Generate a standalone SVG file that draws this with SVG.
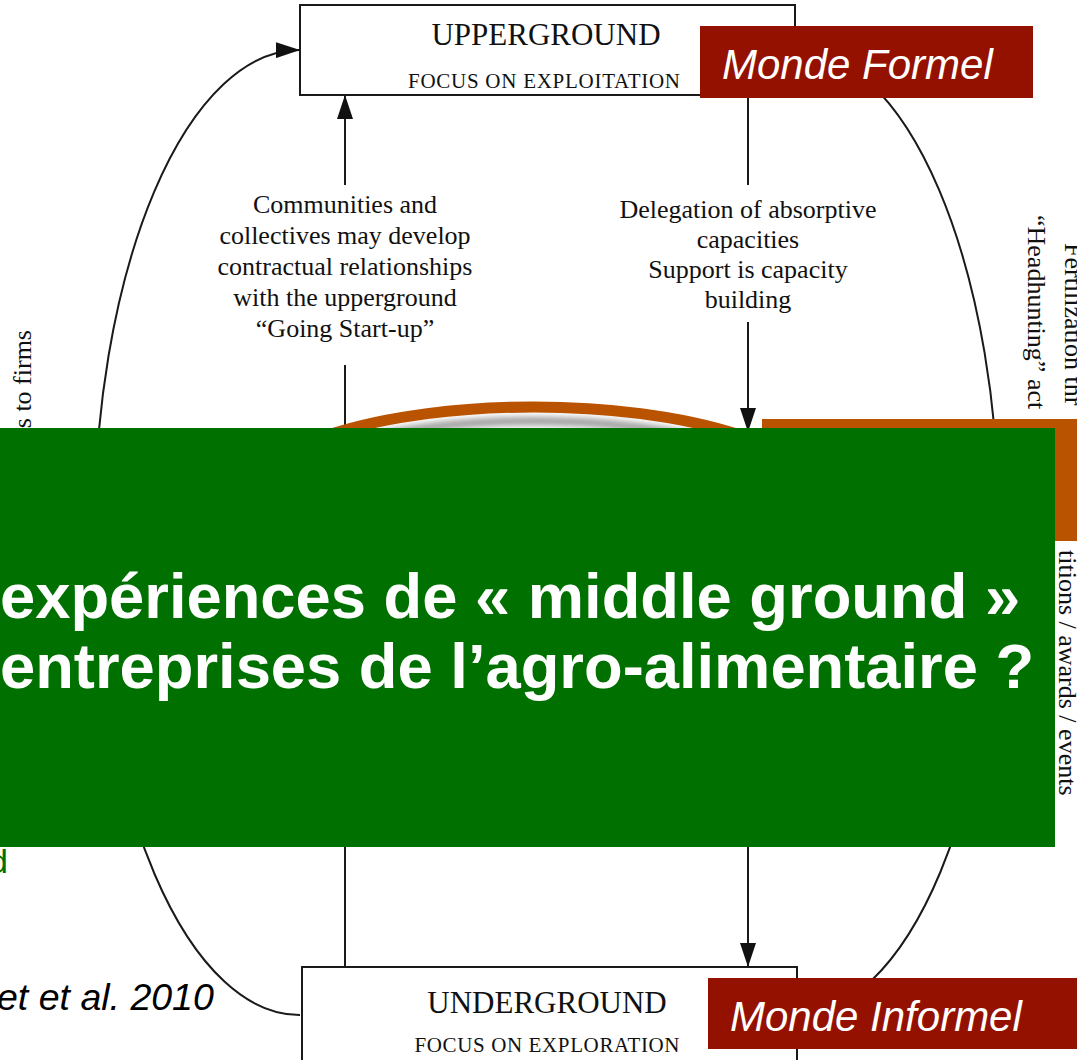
<svg xmlns="http://www.w3.org/2000/svg" width="1077" height="1060" viewBox="0 0 1077 1060">
<defs>
<marker id="ah" viewBox="0 0 24 16" refX="23" refY="8" markerWidth="24" markerHeight="16" markerUnits="userSpaceOnUse" orient="auto"><path d="M0,0 L24,8 L0,16 Z" fill="#111"/></marker>
<filter id="blur" x="-10%" y="-10%" width="120%" height="120%"><feGaussianBlur stdDeviation="3"/></filter>
</defs>
<style>
.ln{fill:none;stroke:#1a1a1a;stroke-width:2}
.box{fill:#fff;stroke:#1a1a1a;stroke-width:2}
.ser{font-family:"Liberation Serif","Times New Roman",serif;fill:#111}
.lab{font-size:26px;text-anchor:middle}
.ttl{font-size:31px;text-anchor:middle}
.sub{font-size:21px;text-anchor:middle}
.side{font-size:26px}
.tag{font-family:"Liberation Sans",Arial,sans-serif;font-style:italic;font-size:42px;fill:#fff}
.big{font-family:"Liberation Sans",Arial,sans-serif;font-weight:bold;font-size:63.3px;fill:#fff}
</style>
<rect width="1077" height="1060" fill="#fff"/>

<g id="upperground">
<rect class="box" x="300" y="5" width="495" height="90"/>
<text class="ser ttl" x="546" y="45">UPPERGROUND</text>
<text class="ser sub" x="544" y="88" textLength="272">FOCUS ON EXPLOITATION</text>
</g>

<g id="underground">
<rect class="box" x="302" y="967" width="495" height="110"/>
<text class="ser ttl" x="547" y="1013">UNDERGROUND</text>
<text class="ser sub" x="547" y="1052" textLength="265">FOCUS ON EXPLORATION</text>
</g>

<g id="connectors">
<path class="ln" d="M300,1015 A205,482 0 0 1 299,50" marker-end="url(#ah)"/>
<path class="ln" d="M795,50 A203,482 0 0 1 797,1015"/>
<path class="ln" d="M345,185 L345,96" marker-end="url(#ah)"/>
<path class="ln" d="M345,365 L345,967"/>
<path class="ln" d="M748,95 L748,185"/>
<path class="ln" d="M748,322 L748,431" marker-end="url(#ah)"/>
<path class="ln" d="M748,847 L748,966" marker-end="url(#ah)"/>
</g>

<g id="label-left">
<text class="ser lab" x="345"><tspan x="345" y="213">Communities and</tspan><tspan x="345" y="244">collectives may develop</tspan><tspan x="345" y="275">contractual relationships</tspan><tspan x="345" y="306">with the upperground</tspan><tspan x="345" y="337">“Going Start-up”</tspan></text>
</g>
<g id="label-right">
<text class="ser lab" x="748"><tspan x="748" y="218">Delegation of absorptive</tspan><tspan x="748" y="248">capacities</tspan><tspan x="748" y="278">Support is capacity</tspan><tspan x="748" y="308">building</tspan></text>
</g>

<g id="side-left">
<text class="ser side" transform="translate(31,330) rotate(-90)" text-anchor="end">s to firms</text>
</g>
<g id="side-right">
<text class="ser side" transform="translate(1065,243) rotate(90)">Fertilization thr</text>
<text class="ser side" transform="translate(1028,215) rotate(90)">“Headhunting” act</text>
<text class="ser side" transform="translate(1059,550) rotate(90)">titions / awards / events</text>
</g>

<g id="middleground">
<ellipse cx="534" cy="502" rx="290" ry="95" fill="#fff"/>
<ellipse cx="534" cy="510" rx="282" ry="89" fill="none" stroke="#999" stroke-width="8" filter="url(#blur)"/>
<ellipse cx="534" cy="502" rx="290" ry="95" fill="none" stroke="#BA5300" stroke-width="11"/>
</g>

<g id="orange-box">
<rect x="762" y="419" width="315" height="122" fill="#BA5300"/>
</g>

<g id="question">
<rect x="0" y="428" width="1055" height="419" fill="#007000"/>
<text class="big" x="0" y="618">expériences de « middle ground »</text>
<text class="big" x="0" y="688">entreprises de l’agro-alimentaire ?</text>
</g>

<g id="fragments">
<text x="8" y="873" text-anchor="end" font-family="Liberation Sans, Arial, sans-serif" font-size="34" fill="#007000">d</text>
<text x="-3" y="1010" font-family="Liberation Sans, Arial, sans-serif" font-style="italic" font-size="37.5" fill="#000">et et al. 2010</text>
</g>

<g id="monde-formel">
<rect x="700" y="26" width="333" height="72" fill="#941100"/>
<text class="tag" x="722" y="79">Monde Formel</text>
</g>
<g id="monde-informel">
<rect x="708" y="978" width="369" height="71" fill="#941100"/>
<text class="tag" x="730" y="1031">Monde Informel</text>
</g>
</svg>
